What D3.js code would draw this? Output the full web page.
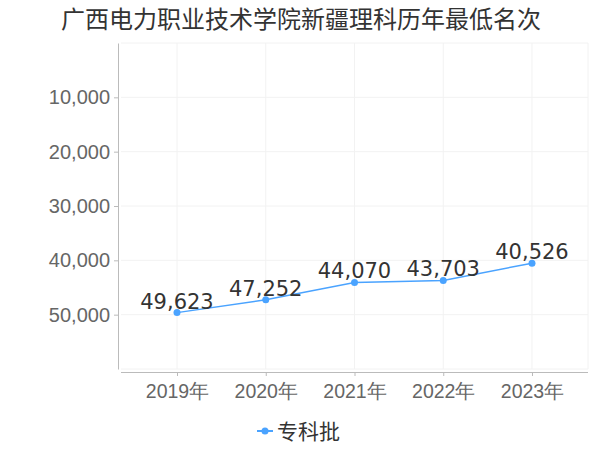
<!DOCTYPE html>
<html><head><meta charset="utf-8">
<script src="https://cdn.jsdelivr.net/npm/d3@7/dist/d3.min.js"></script>
<style>body{margin:0;background:#fff}svg{display:block;font-family:"DejaVu Sans","Noto Sans CJK SC",sans-serif}</style>
</head><body><svg id="c" width="600" height="450"></svg>
<script>
const title = "广西电力职业技术学院新疆理科历年最低名次";
const categories = ["2019年","2020年","2021年","2022年","2023年"];
const values = [49623, 47252, 44070, 43703, 40526];
const seriesName = "专科批";
const yTicks = [10000, 20000, 30000, 40000, 50000];

const svg = d3.select("#c");
const color = "#4aa3ff";
const x = d3.scalePoint().domain(categories).range([121, 588]).padding(0.631);
const y = d3.scaleLinear().domain([0, 60000]).range([43, 369]);
const fmt = d3.format(",");

// title
svg.append("text").attr("x", 301).attr("y", 28).attr("text-anchor", "middle")
  .attr("font-size", 24).attr("fill", "#333").text(title);

// grid
const g = svg.append("g");
g.selectAll(".hg").data([0, ...yTicks, 60000]).join("line")
  .attr("x1", 121).attr("x2", 588).attr("y1", d => y(d)).attr("y2", d => y(d))
  .attr("stroke", "#f2f2f2").attr("stroke-width", 1);
g.selectAll(".vg").data(categories).join("line")
  .attr("x1", d => x(d)).attr("x2", d => x(d)).attr("y1", 43).attr("y2", 369)
  .attr("stroke", "#f2f2f2").attr("stroke-width", 1);
g.append("line").attr("x1", 588).attr("x2", 588).attr("y1", 43).attr("y2", 369).attr("stroke", "#f2f2f2");

// y axis
const ya = svg.append("g").attr("transform", "translate(118,0)")
  .call(d3.axisLeft(y).tickValues(yTicks).tickFormat(fmt).tickSize(4).tickPadding(4).tickSizeOuter(0));
ya.select(".domain").attr("stroke", "#bbb");
ya.selectAll(".tick line").attr("stroke", "#bbb");
ya.selectAll(".tick text").attr("font-size", 20).attr("fill", "#666").attr("font-family", null);

// x axis
const xa = svg.append("g").attr("transform", "translate(0,372)")
  .call(d3.axisBottom(x).tickSize(4).tickPadding(8).tickSizeOuter(0));
xa.select(".domain").attr("stroke", "#bbb").attr("d", "M121,0.5H588");
xa.selectAll(".tick line").attr("stroke", "#bbb");
xa.selectAll(".tick text").attr("font-size", 19.5).attr("fill", "#666").attr("font-family", null);

// line
const data = categories.map((c, i) => ({c, v: values[i]}));
svg.append("path").datum(data)
  .attr("d", d3.line().x(d => x(d.c)).y(d => y(d.v)))
  .attr("fill", "none").attr("stroke", color).attr("stroke-width", 1.5);
svg.selectAll(".pt").data(data).join("circle")
  .attr("cx", d => x(d.c)).attr("cy", d => y(d.v)).attr("r", 3.5).attr("fill", color);
svg.selectAll(".lb").data(data).join("text")
  .attr("x", d => x(d.c)).attr("y", d => y(d.v) - 4).attr("text-anchor", "middle")
  .attr("font-size", 21).attr("fill", "#333").text(d => fmt(d.v));

// legend
const lg = svg.append("g").attr("transform", "translate(265,431)");
lg.append("line").attr("x1", -8).attr("x2", 8).attr("stroke", color).attr("stroke-width", 2);
lg.append("circle").attr("r", 3.5).attr("fill", color);
lg.append("text").attr("x", 12).attr("y", 8).attr("font-size", 21).attr("fill", "#333").text(seriesName);
</script></body></html>
